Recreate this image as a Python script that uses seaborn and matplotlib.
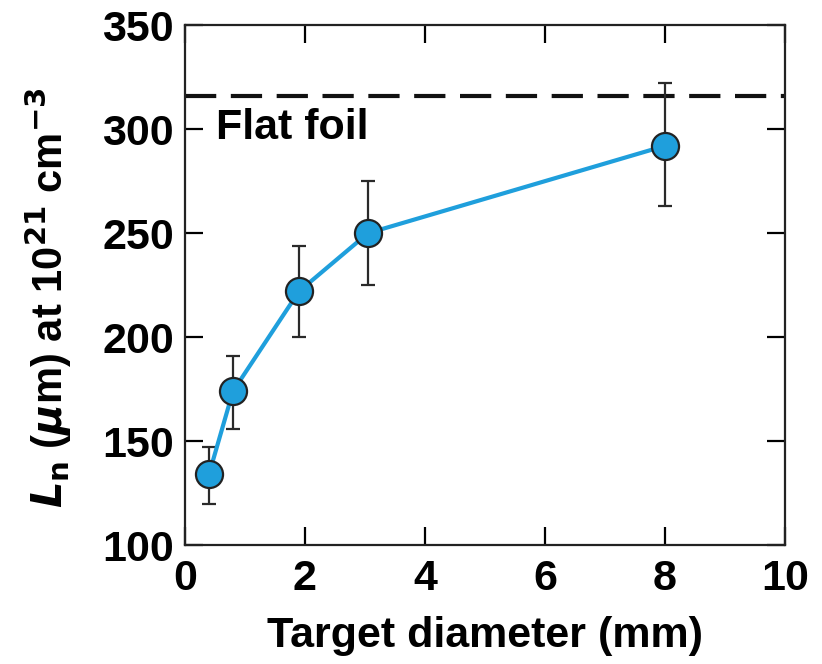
import numpy as np
import pandas as pd
import seaborn as sns
import matplotlib
matplotlib.use("Agg")
import matplotlib.pyplot as plt

# Data
diameter = [0.4, 0.8, 1.9, 3.05, 8.0]
ln_value = [134, 174, 222, 250, 292]
err_low = [120, 156, 200, 225, 263]
err_high = [147, 191, 244, 275, 322]
flat_foil = 316

df = pd.DataFrame({"diameter": diameter, "ln": ln_value})

sns.set_theme(style="ticks")
plt.rcParams['font.family'] = ['Liberation Sans Narrow', 'Liberation Sans', 'DejaVu Sans']
plt.rcParams['font.weight'] = 'bold'
plt.rcParams['text.color'] = 'black'
plt.rcParams['axes.labelcolor'] = 'black'
plt.rcParams['xtick.color'] = 'black'
plt.rcParams['ytick.color'] = 'black'
plt.rcParams['mathtext.fontset'] = 'custom'
plt.rcParams['mathtext.rm'] = 'Liberation Sans Narrow:bold'
plt.rcParams['mathtext.it'] = 'Liberation Sans Narrow:bold:italic'
plt.rcParams['mathtext.bf'] = 'Liberation Sans Narrow:bold'

blue = "#1f9fdc"
fs = 31

fig = plt.figure(figsize=(8.22, 6.64), dpi=100)
ax = fig.add_axes([0.225, 0.179, 0.73, 0.783])

yerr = [np.array(ln_value) - np.array(err_low), np.array(err_high) - np.array(ln_value)]
ax.errorbar(diameter, ln_value, yerr=yerr, fmt="none", ecolor="#2a2a2a",
            elinewidth=1.6, capsize=5, capthick=1.6, zorder=2)

sns.lineplot(data=df, x="diameter", y="ln", color=blue, linewidth=3, ax=ax, zorder=3)
sns.scatterplot(data=df, x="diameter", y="ln", color=blue, s=380,
                edgecolor="#222222", linewidth=1.6, ax=ax, zorder=4)

ax.axhline(flat_foil, color="#111111", linewidth=3, dashes=(7.5, 3.5), zorder=1)
ax.text(0.52, 300.5, "Flat foil", fontsize=fs, fontweight="bold", va="center", ha="left")

ax.set_xlim(0, 10)
ax.set_ylim(100, 350)
ax.set_xticks(range(0, 11, 2))
ax.set_yticks(range(100, 351, 50))
ax.tick_params(direction="in", length=13, width=1.6, top=True, right=True,
               labelsize=fs, pad=8, colors="black")
ax.tick_params(axis="x", pad=10)
for lab in ax.get_xticklabels() + ax.get_yticklabels():
    lab.set_fontweight("bold")
for sp in ax.spines.values():
    sp.set_linewidth(1.6)
    sp.set_color("#222222")

ax.set_xlabel("Target diameter (mm)", fontsize=fs, fontweight="bold", labelpad=12)
ax.set_ylabel(r"$\mathit{L}_\mathrm{n}$ ($\mathit{\mu}$m) at 10$^{21}$ cm$^{-3}$",
              fontsize=30, fontweight="bold", labelpad=12)
ax.yaxis.set_label_coords(-0.185, 0.475)

fig.savefig("out.png", dpi=100)
